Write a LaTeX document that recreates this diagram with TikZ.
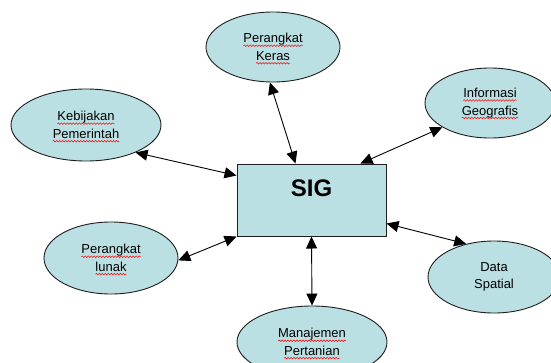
\documentclass[tikz,border=0pt]{standalone}
\usepackage{fontspec}
\setmainfont{Liberation Sans}
\usetikzlibrary{shapes.geometric,arrows.meta,calc,decorations.pathmorphing}
\definecolor{bubble}{RGB}{187,224,227}
\definecolor{edge}{RGB}{30,30,30}
% red wavy underline, as a spell checker draws it
\newdimen\wavelen
\newcommand\spellwave[1]{\leavevmode\setbox0\hbox{#1}\wavelen=\wd0
  \rlap{\copy0}%
  \rlap{\tikz[overlay,baseline=0pt]\draw[red,line width=0.5pt,decorate,
    decoration={snake,amplitude=0.8pt,segment length=3pt}]
    (0pt,-2.8pt) -- (\wavelen,-2.8pt);}%
  \hbox to\wavelen{}}
\tikzset{
  topic/.style={ellipse, draw=edge, line width=0.9pt, fill=bubble, inner sep=0pt,
    align=center, font=\fontsize{13}{17.5}\selectfont},
  core/.style={rectangle, draw=edge, line width=1pt, fill=bubble, inner sep=0pt},
  link/.style={line width=0.9pt, draw=black,
    {Triangle[length=12pt,width=11pt]}-{Triangle[length=12pt,width=11pt]}}
}
\begin{document}
\begin{tikzpicture}[x=1pt,y=-1pt]
\useasboundingbox[fill=white] (0,0) rectangle (551,362);

% central box
\node[core, minimum width=149pt, minimum height=72pt] (sig) at (311.5,200) {};
\node[font=\fontsize{24}{28}\selectfont\bfseries] (sigtext) at (311.5,188) {SIG};

% surrounding topics
\node[topic, minimum width=134pt, minimum height=70pt] (keras) at (273,47)
  {\spellwave{Perangkat}\\\spellwave{Keras}};
\node[topic, minimum width=130pt, minimum height=70pt] (info) at (490,103)
  {\spellwave{Informasi}\\\spellwave{Geografis}};
\node[topic, minimum width=150pt, minimum height=72pt] (kebijakan) at (86,125)
  {\spellwave{Kebijakan}\\\spellwave{Pemerintah}};
\node[topic, minimum width=134pt, minimum height=72pt] (lunak) at (111,258)
  {\spellwave{Perangkat}\\\spellwave{lunak}};
\node[topic, minimum width=132pt, minimum height=72pt] (data) at (494,277)
  {Data\\Spatial};
\node[topic, minimum width=150pt, minimum height=72pt] (tani) at (312,342)
  {\spellwave{Manajemen}\\\spellwave{Pertanian}};

% two-way connectors
\draw[link] (keras.265) -- ($(sig.north)+(-16,0)$);
\draw[link] (info.207) -- ($(sig.north)+(49,0)$);
\draw[link] (kebijakan.331) -- ($(sig.north west)+(0,12)$);
\draw[link] (lunak.358) -- (sig.south west);
\draw[link] ($(sig.south east)+(0,-13)$) -- (data.130);
\draw[link] (sig.south) -- (tani.north);
\end{tikzpicture}
\end{document}
